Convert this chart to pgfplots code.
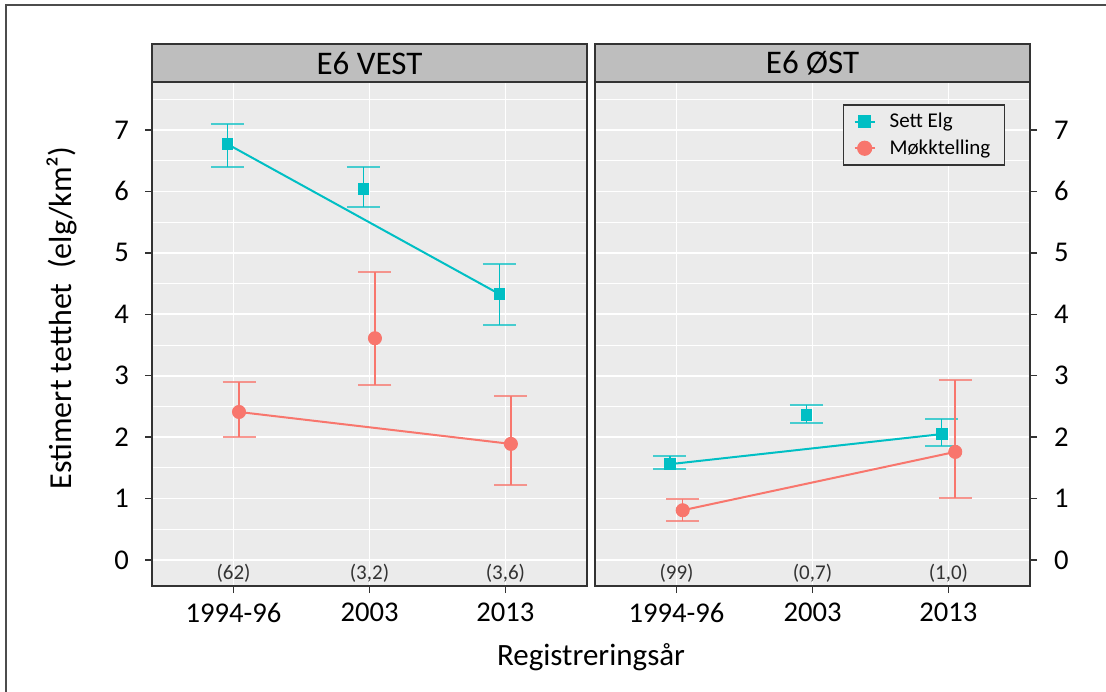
\documentclass[border=0pt]{standalone}
\usepackage{fontspec}
\setmainfont{Carlito}
\usepackage{pgfplots}
\pgfplotsset{compat=1.18}
\definecolor{gteal}{HTML}{00BFC4}
\definecolor{gred}{HTML}{F8766D}
\definecolor{panelbg}{HTML}{EBEBEB}
\definecolor{stripbg}{HTML}{BEBEBE}
\definecolor{frame}{HTML}{333333}

\tikzset{ann/.style={font=\fontsize{10.5}{10.5}\selectfont, text=black!80}}
\pgfplotsset{
  panel/.style={
    scale only axis, width=217.5pt, height=252pt,
    xmin=-0.6, xmax=2.6, ymin=-0.423, ymax=7.781,
    xtick={0,1,2}, xticklabels={1994-96,2003,2013},
    ytick={0,1,...,7}, minor ytick={0.5,1.5,...,7.5},
    xmajorgrids, ymajorgrids, yminorgrids,
    major grid style={white, line width=0.9pt},
    minor grid style={white, line width=0.5pt},
    axis background/.style={fill=panelbg},
    axis line style={frame, line width=0.9pt},
    tick style={frame, line width=0.7pt},
    tick align=outside, major tick length=3.5pt, minor tick length=0pt,
    tick label style={font=\fontsize{14.3}{14.3}\selectfont, text=black},
    xticklabel style={yshift=-1.5pt},
    /pgf/number format/assume math mode=true,
    xtick pos=bottom,
    clip=false,
    every axis plot/.append style={forget plot},
  },
  ln/.style={line width=1pt, no marks},
  pts/.style={only marks,
    error bars/y dir=both, error bars/y explicit},
  tealpts/.style={pts, color=gteal, mark=square*, mark size=2.7pt,
    mark options={fill=gteal, draw=gteal},
    error bars/error bar style={draw=gteal, line width=0.8pt},
    error bars/error mark options={draw=gteal, draw opacity=0.7, line width=0.9pt, mark size=8.25pt, rotate=90}},
  redpts/.style={pts, color=gred, mark=*, mark size=3.3pt,
    mark options={fill=gred, draw=gred},
    error bars/error bar style={draw=gred, line width=0.8pt},
    error bars/error mark options={draw=gred, draw opacity=0.75, line width=0.9pt, mark size=8.25pt, rotate=90}},
}

\begin{document}
\begin{tikzpicture}[x=1pt,y=1pt]
\useasboundingbox (0,0) rectangle (553,345.5);
\draw[line width=0.9pt, color=black!70] (3,-1) -- (3,343) -- (554,343);

% ---------- E6 VEST ----------
\begin{axis}[panel, at={(76pt,52.5pt)}, anchor=south west,
  ytick pos=left, yticklabel style={xshift=-4.5pt}]
\addplot[ln, gteal] coordinates {(-0.045,6.77) (1.955,4.33)};
\addplot[ln, gred] coordinates {(0.04,2.41) (2.04,1.89)};
\addplot[tealpts] coordinates {
  (-0.045,6.77) += (0,0.33) -= (0,0.37)
  (0.955,6.04)  += (0,0.36) -= (0,0.29)
  (1.955,4.33)  += (0,0.49) -= (0,0.50)
};
\addplot[redpts] coordinates {
  (0.04,2.41) += (0,0.49) -= (0,0.41)
  (1.04,3.61) += (0,1.08) -= (0,0.76)
  (2.04,1.89) += (0,0.78) -= (0,0.67)
};
\node[ann] at (axis cs:0,-0.21) {(62)};
\node[ann] at (axis cs:1,-0.21) {(3,2)};
\node[ann] at (axis cs:2,-0.21) {(3,6)};
\end{axis}

% ---------- E6 OST ----------
\begin{axis}[panel, at={(297.5pt,52.5pt)}, anchor=south west,
  ytick pos=right, yticklabel pos=right, yticklabel style={xshift=5pt},
  legend style={at={(0.570,0.956)}, anchor=north west, fill=panelbg,
    draw=frame, line width=0.7pt, font=\fontsize{10.5}{10.5}\selectfont,
    row sep=0.5pt, inner xsep=5pt, inner ysep=2pt},
  legend cell align=left,
  legend image code/.code={\draw[mark repeat=2, mark phase=2, #1] plot coordinates {(0pt,0pt) (5pt,0pt) (10pt,0pt)}; \path (15pt,0pt);}]
\addplot[ln, gteal] coordinates {(-0.05,1.56) (1.95,2.05)};
\addplot[ln, gred] coordinates {(0.045,0.81) (2.05,1.76)};
\addplot[tealpts] coordinates {
  (-0.05,1.56) += (0,0.13) -= (0,0.08)
  (0.955,2.36) += (0,0.16) -= (0,0.13)
  (1.95,2.05)  += (0,0.25) -= (0,0.19)
};
\addplot[redpts] coordinates {
  (0.045,0.81) += (0,0.18) -= (0,0.18)
  (2.05,1.76)  += (0,1.17) -= (0,0.75)
};
\addlegendimage{gteal, line width=1pt, mark=square*, mark size=2.7pt}
\addlegendentry{Sett Elg}
\addlegendimage{gred, line width=1pt, mark=*, mark size=3.3pt}
\addlegendentry{Møkktelling}
\node[ann] at (axis cs:0,-0.21) {(99)};
\node[ann] at (axis cs:1,-0.21) {(0,7)};
\node[ann] at (axis cs:2,-0.21) {(1,0)};
\end{axis}

% strips
\foreach \xa/\xb/\t in {76/293.5/E6 VEST, 297.5/515/E6 ØST}{
  \filldraw[fill=stripbg, draw=frame, line width=0.9pt] (\xa,304.5) rectangle (\xb,323.5);
  \node[font=\fontsize{16.5}{16.5}\selectfont] at ({(\xa+\xb)/2},314) {\t};
}

% axis titles
\node[rotate=90, font=\fontsize{16}{16}\selectfont] at (31,186.5) {Estimert tetthet\ \ (elg/km²)};
\node[font=\fontsize{15.5}{15.5}\selectfont] at (295.5,17) {Registreringsår};
\end{tikzpicture}
\end{document}
